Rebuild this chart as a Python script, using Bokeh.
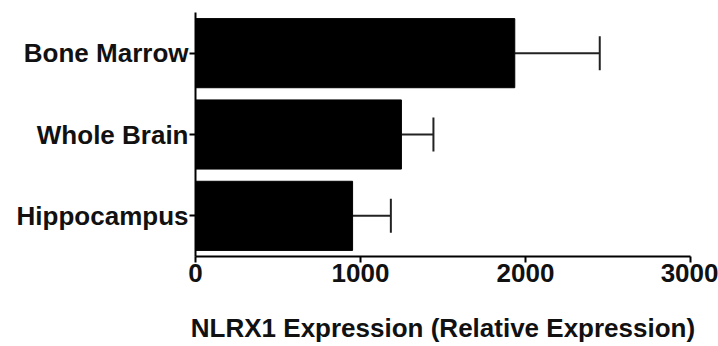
from bokeh.plotting import figure
from bokeh.models import FactorRange, Range1d, FixedTicker, Whisker, TeeHead, ColumnDataSource
from bokeh.embed import file_html
from bokeh.resources import INLINE

tissues = ["Bone Marrow", "Whole Brain", "Hippocampus"]
expression = [1935, 1248, 952]
sem = [515, 194, 232]
x_ticks = [0, 1000, 2000, 3000]
x_label = "NLRX1 Expression (Relative Expression)"

upper = [e + s for e, s in zip(expression, sem)]
src = ColumnDataSource(dict(tissue=tissues, expr=expression, upper=upper))

p = figure(width=718, height=346, output_backend="svg", toolbar_location=None,
           y_range=FactorRange(*reversed(tissues), range_padding=0),
           x_range=Range1d(0, 3000),
           min_border_left=195, min_border_right=28, min_border_top=12, min_border_bottom=90)
p.hbar(y="tissue", right="expr", left=0, height=0.85, source=src,
       fill_color="black", line_color="black")
w = Whisker(base="tissue", lower="expr", upper="upper", dimension="width", source=src,
            line_color="#222222", line_width=2,
            upper_head=TeeHead(size=34, line_color="#222222", line_width=2), lower_head=None)
p.add_layout(w)

p.outline_line_color = None
p.grid.grid_line_color = None
p.background_fill_color = "white"
p.border_fill_color = "white"

font = "Liberation Sans"
for ax in (p.xaxis[0], p.yaxis[0]):
    ax.axis_line_color = "black"
    ax.axis_line_width = 2
    ax.major_tick_line_color = "black"
    ax.major_tick_line_width = 2
    ax.major_tick_out = 6
    ax.major_tick_in = 0
    ax.minor_tick_line_color = None
    ax.major_label_text_font = font
    ax.major_label_text_font_style = "bold"
    ax.major_label_text_color = "#111111"
    ax.major_label_text_font_size = "26px"

p.xaxis.ticker = FixedTicker(ticks=x_ticks)
p.xaxis.major_label_standoff = 1
p.xaxis.axis_label = x_label
p.xaxis.axis_label_text_font = font
p.xaxis.axis_label_text_font_style = "bold"
p.xaxis.axis_label_text_font_size = "26px"
p.xaxis.axis_label_text_color = "#111111"
p.xaxis.axis_label_standoff = 28

p.yaxis.major_label_standoff = 1

open("out.html", "w").write(file_html(p, INLINE))
